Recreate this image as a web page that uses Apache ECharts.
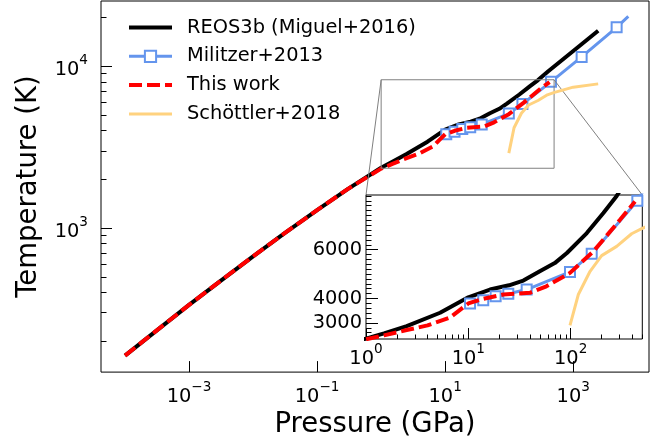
<!DOCTYPE html>
<html><head><meta charset="utf-8">
<script src="https://cdn.jsdelivr.net/npm/echarts@6/dist/echarts.min.js"></script>
<style>html,body{margin:0;padding:0;background:#fff}#c{width:658px;height:444px}</style>
</head><body><div id="c"></div>
<script>
// ---- data (pressure in GPa, temperature in K) ----
const reosP = [1e-4, 3e-4, 1e-3, 3e-3, 1e-2, 3e-2, 0.1, 0.3, 1, 1.5, 2.5, 5.3, 10, 16.3, 25, 34.5, 50, 70, 92, 144, 209, 282, 407, 1000, 2450];
const reosT = [163, 230, 335, 467, 668, 920, 1290, 1740, 2355, 2570, 2869, 3416, 4050, 4367, 4540, 4735, 5115, 5450, 5865, 6680, 7500, 8200, 9290, 12400, 16540];
const militzerP = [10.4, 14, 18.5, 24.6, 37.2, 98.6, 160.8, 449, 1352, 4760, 7240];
const militzerT = [3796, 3931, 4094, 4192, 4367, 5090, 5837, 8000, 11400, 17370, 20280];
const thisP = [1e-4, 3e-4, 1e-3, 3e-3, 1e-2, 3e-2, 0.1, 0.3, 1, 1.5, 2.5, 4, 6.6, 8, 10, 14, 22, 40, 58, 98.6, 167, 304, 426];
const thisT = [163, 230, 335, 467, 668, 920, 1290, 1740, 2327, 2490, 2706, 2898, 3212, 3482, 3796, 3988, 4163, 4232, 4500, 5049, 5930, 7224, 7970];
const schP = [98.6, 119, 155, 201, 282, 395, 495, 1000, 2450];
const schT = [2900, 4163, 5115, 5755, 6134, 6652, 6860, 7415, 7770];
const seriesNames = ['REOS3b (Miguel+2016)', 'Militzer+2013', 'This work', 'Schöttler+2018'];

// ---- ticks ----
const mainXTicks = [1e-3, 1e-1, 1e1, 1e3];
const mainYTicks = [1e3, 1e4];
const mainYMinor = [200, 300, 400, 500, 600, 700, 800, 900, 2000, 3000, 4000, 5000, 6000, 7000, 8000, 9000, 20000];
const insetXTicks = [1, 10, 100];
const insetXMinor = [2, 3, 4, 5, 6, 7, 8, 9, 20, 30, 40, 50, 60, 70, 80, 90, 200, 300, 400, 500];
const insetYTicks = [3000, 4000, 6000];
const insetYMinor = [2400, 2600, 2800, 3000, 3200, 3400, 3600, 3800, 4000, 4200, 4400, 4600, 4800, 5000, 5200, 5400, 5600, 5800, 6000, 6200, 6400, 6600, 6800, 7000, 7200, 7400, 7600, 7800, 8000, 8200];

// ---- ranges ----
const mainX = [Math.pow(10, -4.375), Math.pow(10, 4.183)];
const mainY = [Math.pow(10, 2.110), Math.pow(10, 4.4024)];
const insetX = [1, 502];
const insetY = [2340, 8240];

const FONT = 'DejaVu Sans';
const FS = 19.4, FS_SUP = 13.6, FS_TITLE = 27.5;
const BLACK = '#000000', BLUE = '#6495ED', RED = '#FF0000', ORANGE = '#FFD27F';
const DASH = [13, 5];

function pair(xs, ys) { return xs.map((x, i) => [x, ys[i]]); }
function pow10Label(v) {
  const e = Math.round(Math.log10(v));
  return '{b|10}{s|' + (e < 0 ? '\u2212' + (-e) : e) + '}';
}
const richSup = {
  b: { fontSize: FS, fontFamily: FONT, color: '#000', lineHeight: 26, verticalAlign: 'bottom' },
  s: { fontSize: FS_SUP, fontFamily: FONT, color: '#000', lineHeight: 14, verticalAlign: 'top' }
};

function mkSeries(x, y, z) {
  const militzerData = pair(militzerP, militzerT).map((d, i) =>
    i === militzerP.length - 1 ? { value: d, symbol: 'none' } : d);
  return [
    { name: seriesNames[0], type: 'line', xAxisIndex: x, yAxisIndex: y, z: z,
      data: pair(reosP, reosT), symbol: 'none',
      lineStyle: { color: BLACK, width: 4 }, itemStyle: { color: BLACK } },
    { name: seriesNames[1], type: 'line', xAxisIndex: x, yAxisIndex: y, z: z + 1,
      data: militzerData, symbol: 'rect', symbolSize: 10, showAllSymbol: true,
      lineStyle: { color: BLUE, width: 3 },
      itemStyle: { color: '#fff', borderColor: BLUE, borderWidth: 2 } },
    { name: seriesNames[2], type: 'line', xAxisIndex: x, yAxisIndex: y, z: z + 2,
      data: pair(thisP, thisT), symbol: 'none',
      lineStyle: { color: RED, width: 4, type: DASH }, itemStyle: { color: RED } },
    { name: seriesNames[3], type: 'line', xAxisIndex: x, yAxisIndex: y, z: z + 3,
      data: pair(schP, schT), symbol: 'none',
      lineStyle: { color: ORANGE, width: 3 }, itemStyle: { color: ORANGE } }
  ].map(s => Object.assign(s, { animation: false, silent: true, clip: true }));
}

const chart = echarts.init(document.getElementById('c'), null, { renderer: 'canvas' });
const hidden = { opacity: 0 };
const option = {
  animation: false,
  backgroundColor: '#fff',
  textStyle: { fontFamily: FONT },
  grid: [
    { left: 101, top: 1, right: 9, bottom: 67, show: true, borderColor: '#000', borderWidth: 1, backgroundColor: 'transparent', z: 0 },
    { left: 366, top: 195, right: 15.7, bottom: 105, show: true, borderColor: '#000', borderWidth: 1, backgroundColor: '#fff', z: 10 }
  ],
  legend: {
    orient: 'vertical', left: 127, top: 17.5, padding: 0, itemWidth: 43, itemHeight: 14, itemGap: 8.8,
    data: [
      { name: seriesNames[0], itemStyle: hidden, lineStyle: { color: BLACK, width: 4 } },
      { name: seriesNames[1], lineStyle: { color: BLUE, width: 3 } },
      { name: seriesNames[2], itemStyle: hidden, lineStyle: { color: RED, width: 4, type: DASH } },
      { name: seriesNames[3], itemStyle: hidden, lineStyle: { color: ORANGE, width: 3 } }
    ],
    textStyle: { fontSize: FS, fontFamily: FONT, color: '#000', lineHeight: 20, padding: [0, 0, 0, 10] }
  },
  xAxis: [
    { type: 'log', gridIndex: 0, min: mainX[0], max: mainX[1], position: 'bottom',
      name: 'Pressure (GPa)', nameLocation: 'middle', nameGap: 36,
      nameTextStyle: { fontSize: FS_TITLE, fontFamily: FONT, color: '#000' },
      axisLine: { show: false }, splitLine: { show: false },
      axisTick: { inside: true, length: 11, customValues: mainXTicks, lineStyle: { color: '#000', width: 1 } },
      axisLabel: { customValues: mainXTicks, margin: 8, formatter: pow10Label, rich: richSup } },
    { type: 'log', gridIndex: 1, min: insetX[0], max: insetX[1], position: 'bottom', z: 11,
      axisLine: { show: false }, splitLine: { show: false },
      axisTick: { inside: true, length: 11, customValues: insetXTicks, lineStyle: { color: '#000', width: 1 } },
      axisLabel: { customValues: insetXTicks, margin: 3, formatter: pow10Label, rich: richSup } },
    { type: 'log', gridIndex: 1, min: insetX[0], max: insetX[1], position: 'bottom', z: 11,
      axisLine: { show: false }, splitLine: { show: false },
      axisTick: { inside: true, length: 4.5, customValues: insetXMinor, lineStyle: { color: '#000', width: 1 } },
      axisLabel: { show: false } }
  ],
  yAxis: [
    { type: 'log', gridIndex: 0, min: mainY[0], max: mainY[1], position: 'left',
      name: 'Temperature (K)', nameLocation: 'middle', nameGap: 58, nameRotate: 90,
      nameTextStyle: { fontSize: FS_TITLE, fontFamily: FONT, color: '#000' },
      axisLine: { show: false }, splitLine: { show: false },
      axisTick: { inside: true, length: 11, customValues: mainYTicks, lineStyle: { color: '#000', width: 1 } },
      axisLabel: { customValues: mainYTicks, margin: 13, formatter: pow10Label, rich: richSup } },
    { type: 'log', gridIndex: 0, min: mainY[0], max: mainY[1], position: 'left',
      axisLine: { show: false }, splitLine: { show: false },
      axisTick: { inside: true, length: 5.5, customValues: mainYMinor, lineStyle: { color: '#000', width: 1 } },
      axisLabel: { show: false } },
    { type: 'value', gridIndex: 1, min: insetY[0], max: insetY[1], position: 'left', z: 11,
      axisLine: { show: false }, splitLine: { show: false },
      axisTick: { inside: true, length: 12, customValues: insetYTicks, lineStyle: { color: '#000', width: 1 } },
      axisLabel: { customValues: insetYTicks, margin: 4, fontSize: FS, fontFamily: FONT, color: '#000', formatter: v => String(v) } },
    { type: 'value', gridIndex: 1, min: insetY[0], max: insetY[1], position: 'left', z: 11,
      axisLine: { show: false }, splitLine: { show: false },
      axisTick: { inside: true, length: 5.5, customValues: insetYMinor, lineStyle: { color: '#000', width: 1 } },
      axisLabel: { show: false } }
  ],
  series: [].concat(mkSeries(0, 0, 2), mkSeries(1, 2, 12))
};
chart.setOption(option);

// zoom indicator box and connectors, positioned through the axes' own scales
const m = v => chart.convertToPixel({ xAxisIndex: 0, yAxisIndex: 0 }, v);
const n = v => chart.convertToPixel({ xAxisIndex: 1, yAxisIndex: 2 }, v);
const bTL = m([insetX[0], insetY[1]]), bBR = m([insetX[1], insetY[0]]);
const bTR = [bBR[0], bTL[1]];
const iTL = n([insetX[0], insetY[1]]), iTR = n([insetX[1], insetY[1]]);
const gray = { stroke: '#808080', lineWidth: 1, fill: null };
chart.setOption({
  graphic: [
    { type: 'rect', z: 5, silent: true, shape: { x: bTL[0], y: bTL[1], width: bBR[0] - bTL[0], height: bBR[1] - bTL[1] }, style: gray },
    { type: 'line', z: 5, silent: true, shape: { x1: bTL[0], y1: bTL[1], x2: iTL[0], y2: iTL[1] }, style: gray },
    { type: 'line', z: 5, silent: true, shape: { x1: bTR[0], y1: bTR[1], x2: iTR[0], y2: iTR[1] }, style: gray }
  ]
});
</script>
</body></html>
